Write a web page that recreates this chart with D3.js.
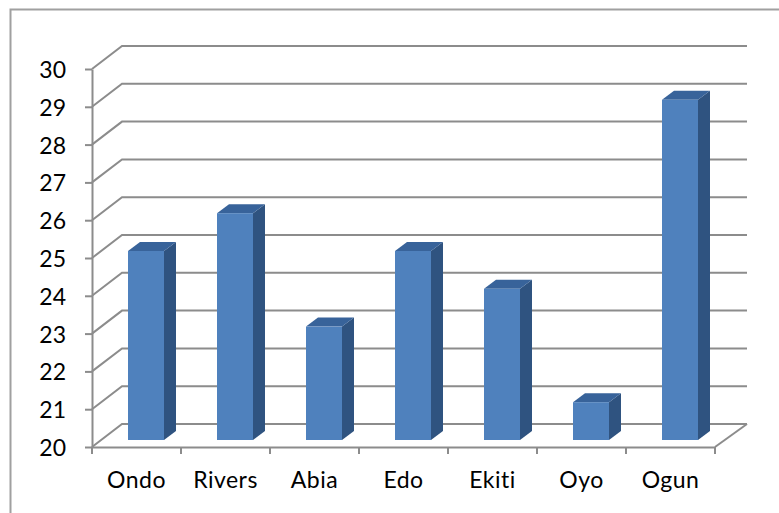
<!DOCTYPE html>
<html>
<head>
<meta charset="utf-8">
<script src="https://cdn.jsdelivr.net/npm/d3@7"></script>
<style>
html,body{margin:0;padding:0;background:#fff;}
svg{display:block;}
text{font-family:Lato,"Open Sans",sans-serif;fill:#000;}
</style>
</head>
<body>
<div id="chart"></div>
<script>
// Score per state, drawn as pseudo-3D columns
const states = ["Ondo","Rivers","Abia","Edo","Ekiti","Oyo","Ogun"];
const values = [25,26,23,25,24,21,29];
const yTicks = [20,21,22,23,24,25,26,27,28,29,30];

const W = 779, H = 513;
const svg = d3.select("#chart").append("svg").attr("width",W).attr("height",H);

const x = d3.scaleBand().domain(states).range([92,715]);
const y = d3.scaleLinear().domain([20,30]).range([447,69]);

// Projection offsets: back wall, the plane the columns stand on, column depth
const wall = {dx:30, dy:-23};
const plane = {dx:9.5, dy:-7};
const side = {dx:12, dy:-9};
const barW = 36;
const grey = "#8c8c8c";

// Chart frame, open on the right and bottom edges
svg.append("path").attr("d","M10.5,513V9.5H779").attr("fill","none").attr("stroke","#a0a0a0").attr("stroke-width",2);

// Gridlines across the back wall and along the side wall
const grid = svg.append("g").attr("fill","none").attr("stroke",grey).attr("stroke-width",2);
yTicks.forEach(t=>{
  grid.append("path").attr("d",d3.line()([
    [x.range()[0],y(t)],
    [x.range()[0]+wall.dx,y(t)+wall.dy],
    [x.range()[1]+wall.dx+2,y(t)+wall.dy]
  ]));
});
// Floor edge on the right
grid.append("path").attr("d",d3.line()([
  [x.range()[1],y(20)],
  [x.range()[1]+wall.dx+2,y(20)+wall.dy]
]));

// Axes with outward ticks
const yAxis = d3.axisLeft(y).tickValues(yTicks).tickSize(7).tickPadding(19).tickSizeOuter(0);
const gy = svg.append("g").attr("transform","translate(92,0)").call(yAxis);
const xAxis = d3.axisBottom(x).tickSize(7).tickPadding(10).tickSizeOuter(0);
const gx = svg.append("g").attr("transform",`translate(0,${y(20)})`).call(xAxis);
[gy,gx].forEach(g=>{
  g.selectAll("path.domain").attr("stroke",grey).attr("stroke-width",2);
  g.selectAll("line").attr("stroke",grey).attr("stroke-width",2);
  g.selectAll("text").style("font-family","Lato,'Open Sans',sans-serif").attr("fill","#000");
});
gy.selectAll("text").attr("font-size",23).attr("dy","0.37em");
gx.selectAll("text").attr("font-size",23).attr("letter-spacing",0.5);
// Category separators sit on band edges rather than centres
gx.selectAll(".tick line").remove();
gx.selectAll("line.edge").data(d3.range(states.length+1)).enter().append("line")
  .attr("class","edge")
  .attr("x1",i=>x.range()[0]+i*x.step()).attr("x2",i=>x.range()[0]+i*x.step())
  .attr("y1",0).attr("y2",7).attr("stroke",grey).attr("stroke-width",2);
gx.selectAll(".tick text").attr("dy","1.03em");

// Columns: side, top and front faces
const bars = svg.append("g").selectAll("g").data(states.map((s,i)=>({s,v:values[i]}))).enter().append("g");
const bx = d=>x(d.s)+x.bandwidth()/2-barW/2+plane.dx;
const by = v=>y(v)+plane.dy;
const poly = pts=>d3.line()(pts)+"Z";
bars.append("path").attr("fill","#2f5380").attr("d",d=>poly([
  [bx(d)+barW,by(d.v)],[bx(d)+barW+side.dx,by(d.v)+side.dy],
  [bx(d)+barW+side.dx,by(20)+side.dy],[bx(d)+barW,by(20)]
]));
bars.append("path").attr("fill","#38639a").attr("d",d=>poly([
  [bx(d),by(d.v)],[bx(d)+side.dx,by(d.v)+side.dy],
  [bx(d)+barW+side.dx,by(d.v)+side.dy],[bx(d)+barW,by(d.v)]
]));
bars.append("rect").attr("fill","#4f81bd")
  .attr("x",bx).attr("y",d=>by(d.v)).attr("width",barW).attr("height",d=>by(20)-by(d.v));
</script>
</body>
</html>
